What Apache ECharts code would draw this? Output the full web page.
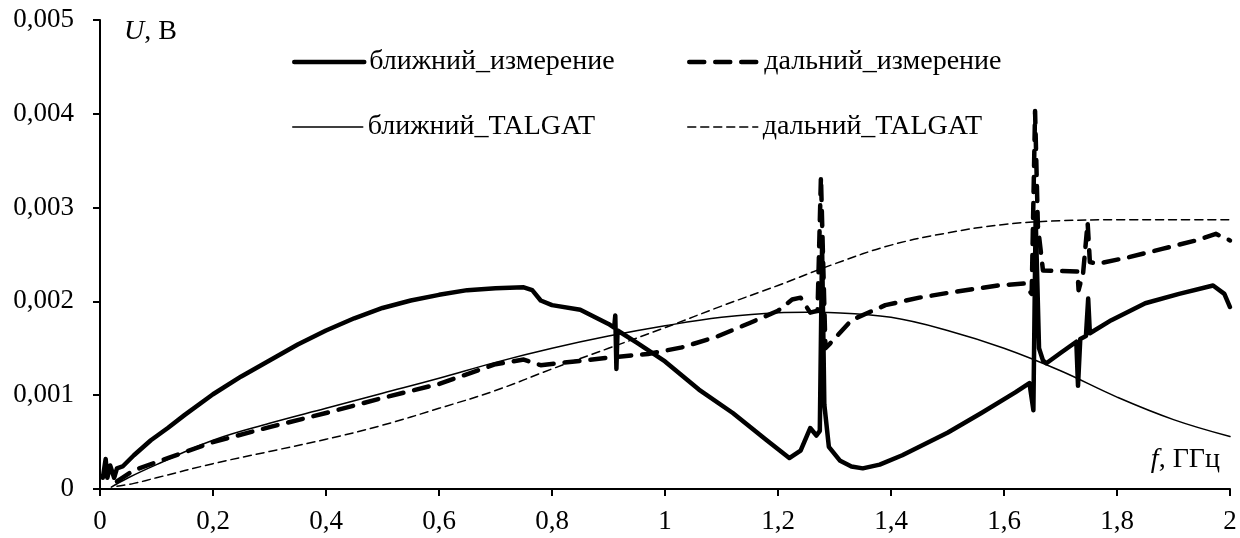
<!DOCTYPE html>
<html>
<head>
<meta charset="utf-8">
<script src="https://cdn.jsdelivr.net/npm/echarts@6/dist/echarts.min.js"></script>
<style>
  html, body { margin: 0; padding: 0; background: #fff; }
  #chart { width: 1240px; height: 538px; }
</style>
</head>
<body>
<div id="chart"></div>
<script>
// frequency, GHz  /  voltage, mV (converted to V below)
var nearMeasF = [0.005, 0.01, 0.013, 0.018, 0.025, 0.03, 0.04, 0.06, 0.09, 0.12, 0.15, 0.2, 0.25, 0.3, 0.35, 0.4, 0.45, 0.5, 0.55, 0.6, 0.65, 0.7, 0.75, 0.765, 0.78, 0.8, 0.85, 0.9, 0.91, 0.912, 0.914, 0.916, 0.95, 1.0, 1.06, 1.12, 1.18, 1.22, 1.24, 1.257, 1.268, 1.274, 1.278, 1.282, 1.29, 1.31, 1.33, 1.35, 1.38, 1.42, 1.5, 1.56, 1.62, 1.645, 1.652, 1.656, 1.662, 1.669, 1.675, 1.7, 1.728, 1.731, 1.735, 1.745, 1.749, 1.752, 1.79, 1.85, 1.91, 1.97, 1.99, 2.0];
var nearMeasU = [0.12, 0.32, 0.12, 0.25, 0.12, 0.22, 0.24, 0.36, 0.52, 0.65, 0.79, 1.01, 1.2, 1.37, 1.54, 1.69, 1.82, 1.93, 2.01, 2.07, 2.12, 2.14, 2.15, 2.12, 2.01, 1.96, 1.91, 1.76, 1.72, 1.85, 1.28, 1.69, 1.56, 1.36, 1.06, 0.81, 0.52, 0.33, 0.41, 0.65, 0.57, 0.62, 2.6, 0.9, 0.45, 0.3, 0.24, 0.22, 0.26, 0.36, 0.6, 0.81, 1.03, 1.13, 0.84, 2.9, 1.5, 1.37, 1.34, 1.45, 1.57, 1.1, 1.6, 1.63, 2.03, 1.66, 1.8, 1.98, 2.08, 2.17, 2.08, 1.94];

var farMeasF = [0.03, 0.06, 0.12, 0.2, 0.3, 0.4, 0.5, 0.6, 0.7, 0.75, 0.78, 0.84, 0.9, 0.97, 1.03, 1.09, 1.15, 1.2, 1.225, 1.24, 1.257, 1.27, 1.276, 1.28, 1.284, 1.292, 1.33, 1.39, 1.45, 1.5, 1.59, 1.635, 1.649, 1.655, 1.66, 1.669, 1.73, 1.732, 1.74, 1.748, 1.752, 1.765, 1.82, 1.88, 1.94, 1.975, 2.0];
var farMeasU = [0.08, 0.2, 0.33, 0.5, 0.66, 0.81, 0.97, 1.12, 1.33, 1.38, 1.32, 1.36, 1.4, 1.44, 1.51, 1.62, 1.77, 1.9, 2.02, 2.04, 1.88, 1.9, 3.33, 2.4, 1.5, 1.55, 1.8, 1.96, 2.04, 2.09, 2.17, 2.19, 2.08, 4.03, 2.8, 2.33, 2.32, 2.12, 2.3, 2.84, 2.42, 2.4, 2.47, 2.56, 2.65, 2.72, 2.65];

var nearCalcF = [0.02, 0.05, 0.1, 0.2, 0.3, 0.4, 0.5, 0.6, 0.7, 0.8, 0.9, 1.0, 1.1, 1.2, 1.25, 1.3, 1.4, 1.5, 1.6, 1.7, 1.8, 1.9, 2.0];
var nearCalcU = [0.02, 0.12, 0.26, 0.52, 0.7, 0.86, 1.02, 1.18, 1.35, 1.5, 1.63, 1.74, 1.83, 1.88, 1.885, 1.88, 1.83, 1.69, 1.5, 1.26, 0.98, 0.74, 0.56];

var farCalcF = [0.03, 0.06, 0.1, 0.2, 0.3, 0.4, 0.5, 0.6, 0.7, 0.8, 0.9, 1.0, 1.1, 1.2, 1.3, 1.4, 1.5, 1.6, 1.7, 1.8, 1.9, 2.0];
var farCalcU = [0.03, 0.06, 0.12, 0.27, 0.4, 0.53, 0.68, 0.86, 1.05, 1.28, 1.5, 1.72, 1.95, 2.17, 2.4, 2.6, 2.73, 2.82, 2.86, 2.87, 2.87, 2.87];

var xTicks = [0, 2, 0.2];
var yTicks = [0, 0.005, 0.001];

function pairs(f, u) {
    return f.map(function (x, i) { return [x, u[i] / 1000]; });
}

function comma(v) {
    return String(+v.toFixed(4)).replace('.', ',');
}

var font = "'Liberation Serif', serif";

var series = [
    { name: 'ближний_измерение', data: pairs(nearMeasF, nearMeasU), width: 4.5, type: 'solid', smooth: false },
    { name: 'дальний_измерение', data: pairs(farMeasF, farMeasU), width: 4.5, type: [15, 11], smooth: false },
    { name: 'ближний_TALGAT', data: pairs(nearCalcF, nearCalcU), width: 1.5, type: 'solid', smooth: 0.4 },
    { name: 'дальний_TALGAT', data: pairs(farCalcF, farCalcU), width: 1.5, type: [8, 5], smooth: 0.4 }
];

var legendPos = [[292, 48], [687, 48], [292, 113], [687, 113]];

var chart = echarts.init(document.getElementById('chart'));

var option = {
    animation: false,
    backgroundColor: '#fff',
    grid: { left: 100, right: 10, top: 20, bottom: 49 },
    legend: series.map(function (s, i) {
        return {
            data: [s.name],
            left: legendPos[i][0],
            top: legendPos[i][1],
            itemWidth: 70,
            itemHeight: 14,
            padding: 0,
            selectedMode: false,
            itemStyle: { opacity: 0, borderWidth: 0 },
            lineStyle: { width: s.width, type: s.type, color: '#000', opacity: 1 },
            textStyle: { fontFamily: font, fontSize: 28, color: '#000' }
        };
    }),
    xAxis: {
        type: 'value',
        min: xTicks[0],
        max: xTicks[1],
        interval: xTicks[2],
        axisLine: { lineStyle: { color: '#000', width: 2 } },
        axisTick: { inside: false, length: 7, lineStyle: { color: '#000', width: 2 } },
        axisLabel: { margin: 19, color: '#000', fontFamily: font, fontSize: 27, formatter: comma },
        splitLine: { show: false }
    },
    yAxis: {
        type: 'value',
        min: yTicks[0],
        max: yTicks[1],
        interval: yTicks[2],
        axisLine: { show: true, lineStyle: { color: '#000', width: 2 } },
        axisTick: { show: true, inside: false, length: 7, lineStyle: { color: '#000', width: 2 } },
        axisLabel: { margin: 26, color: '#000', fontFamily: font, fontSize: 27, formatter: comma },
        splitLine: { show: false }
    },
    graphic: [
        {
            type: 'text', left: 124, top: 18,
            style: {
                text: '{i|U}, В', font: '28px ' + font, fill: '#000',
                rich: { i: { fontStyle: 'italic', fontFamily: font, fontSize: 28 } }
            }
        },
        {
            type: 'text', right: 20, top: 446,
            style: {
                text: '{i|f}, ГГц', font: '28px ' + font, fill: '#000',
                rich: { i: { fontStyle: 'italic', fontFamily: font, fontSize: 28 } }
            }
        }
    ],
    series: series.map(function (s) {
        return {
            name: s.name,
            type: 'line',
            data: s.data,
            showSymbol: false,
            symbol: 'none',
            smooth: s.smooth,
            lineStyle: { color: '#000', width: s.width, type: s.type, cap: 'round', join: 'round' },
            itemStyle: { color: '#000' }
        };
    })
};

chart.setOption(option);
</script>
</body>
</html>
